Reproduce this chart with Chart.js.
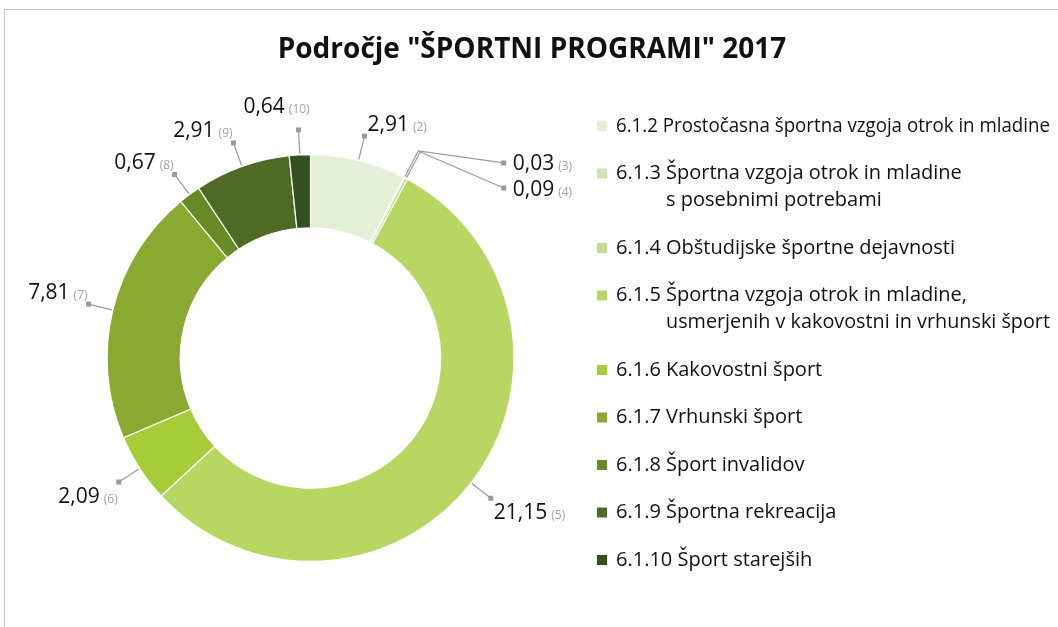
<!DOCTYPE html>
<html>
<head>
<meta charset="utf-8">
<title>Področje ŠPORTNI PROGRAMI 2017</title>
<script src="https://cdn.jsdelivr.net/npm/chart.js@4.4.1/dist/chart.umd.min.js"></script>
<style>
    html, body { margin: 0; padding: 0; background: #fff; }
    #frame {
        position: absolute; left: 4px; top: 9px; width: 1070px; height: 640px;
        border-left: 1px solid #c4c4c4; border-top: 1px solid #c4c4c4;
    }
    #wrap { position: absolute; left: 0; top: 0; width: 1058px; height: 627px; }
</style>
</head>
<body>
<div id="frame"></div>
<div id="wrap"><canvas id="chart"></canvas></div>
<script>
// Data
const TITLE = 'Področje "ŠPORTNI PROGRAMI" 2017';

const categories = [
    ['6.1.2 Prostočasna športna vzgoja otrok in mladine'],
    ['6.1.3 Športna vzgoja otrok in mladine', 's posebnimi potrebami'],
    ['6.1.4 Obštudijske športne dejavnosti'],
    ['6.1.5 Športna vzgoja otrok in mladine,', 'usmerjenih v kakovostni in vrhunski šport'],
    ['6.1.6 Kakovostni šport'],
    ['6.1.7 Vrhunski šport'],
    ['6.1.8 Šport invalidov'],
    ['6.1.9 Športna rekreacija'],
    ['6.1.10 Šport starejših'],
];
const codes = ['2', '3', '4', '5', '6', '7', '8', '9', '10'];
const values = [2.91, 0.03, 0.09, 21.15, 2.09, 7.81, 0.67, 2.91, 0.64];
const colors = [
    '#e3efd6', '#cfe4b1', '#c3dd8e', '#b8d762', '#a7cc3a',
    '#89a930', '#678a24', '#4f6a25', '#35501f',
];

const FONT = '"Open Sans", "Noto Sans", sans-serif';
const LEADER = '#9b9b9b';

function fmt(v) {
    return v.toFixed(2).replace('.', ',');
}

// title, leader-line labels and the legend are drawn on the canvas
const decorPlugin = {
    id: 'decor',
    afterDatasetsDraw(chart) {
        const ctx = chart.ctx;
        const meta = chart.getDatasetMeta(0);
        let tiny = 0;

        meta.data.forEach((arc, i) => {
            const p = arc.getProps(['x', 'y', 'startAngle', 'endAngle', 'outerRadius'], true);
            const mid = (p.startAngle + p.endAngle) / 2;
            const ux = Math.cos(mid), uy = Math.sin(mid);
            const ax = p.x + ux * (p.outerRadius + 1);
            const ay = p.y + uy * (p.outerRadius + 1);
            let ex, ey, tx, ty, align;

            ctx.save();
            ctx.strokeStyle = LEADER;
            ctx.lineWidth = 1.2;
            ctx.beginPath();
            ctx.moveTo(ax, ay);
            if (p.endAngle - p.startAngle < 0.03) {
                // tiny slices get an elbow leader out to the right
                const bx = p.x + ux * (p.outerRadius + 30);
                const by = p.y + uy * (p.outerRadius + 30);
                ex = p.x + p.outerRadius * 0.95;
                ey = by + 12 + tiny * 24;
                tiny++;
                ctx.lineTo(bx, by);
                ctx.lineTo(ex, ey);
                tx = ex + 9; ty = ey; align = 'left';
            } else {
                ex = p.x + ux * (p.outerRadius + 25);
                ey = p.y + uy * (p.outerRadius + 25);
                ctx.lineTo(ex, ey);
                if (Math.abs(ux) < 0.1) {
                    tx = ex - 22; align = 'center'; ty = ey - 24;
                } else {
                    if (ux > 0) { tx = ex + 3; align = 'left'; }
                    else { tx = ex - 1; align = 'right'; }
                    ty = uy < 0 ? ey - 13 : ey + 13;
                }
            }
            ctx.stroke();
            ctx.fillStyle = LEADER;
            ctx.fillRect(ex - 2.5, ey - 2.5, 5, 5);

            const main = fmt(values[i]);
            const sub = '(' + codes[i] + ')';
            ctx.font = '21px ' + FONT;
            const w1 = ctx.measureText(main).width;
            ctx.font = '12px ' + FONT;
            const w2 = ctx.measureText(sub).width;
            const w = w1 + 4 + w2;
            let x0 = tx;
            if (align === 'right') x0 = tx - w;
            if (align === 'center') x0 = tx - w / 2;
            ctx.textAlign = 'left';
            ctx.textBaseline = 'alphabetic';
            ctx.font = '21px ' + FONT;
            ctx.fillStyle = '#111';
            ctx.fillText(main, x0, ty + 7.5);
            ctx.font = '12px ' + FONT;
            ctx.fillStyle = '#a3a3a3';
            ctx.fillText(sub, x0 + w1 + 4, ty + 7.5);
            ctx.restore();
        });

        // title
        ctx.save();
        ctx.font = 'bold 28px ' + FONT;
        ctx.fillStyle = '#111';
        ctx.textAlign = 'center';
        ctx.textBaseline = 'middle';
        ctx.fillText(TITLE, 532, 50);
        ctx.restore();

        // legend
        ctx.save();
        ctx.font = '20px ' + FONT;
        ctx.textBaseline = 'middle';
        ctx.textAlign = 'left';
        let y = 126;
        categories.forEach((lines, i) => {
            ctx.fillStyle = colors[i];
            ctx.fillRect(597, y - 5, 10, 10);
            ctx.fillStyle = '#111';
            lines.forEach((line, k) => {
                const x = k === 0 ? 616 : 666;
                ctx.fillText(line, x, y, 1050 - x);
                if (k < lines.length - 1) y += 27;
            });
            y += 47.5;
        });
        ctx.restore();
    },
};

new Chart(document.getElementById('chart'), {
    type: 'doughnut',
    data: {
        labels: categories.map(c => c.join(' ')),
        datasets: [{
            data: values,
            backgroundColor: colors,
            borderColor: '#ffffff',
            borderWidth: 1.2,
        }],
    },
    options: {
        responsive: true,
        maintainAspectRatio: false,
        animation: false,
        cutout: '64%',
        layout: {
            padding: { top: 154, bottom: 65, left: 106.5, right: 543.5 },
        },
        plugins: {
            legend: { display: false },
            title: { display: false },
            tooltip: { enabled: false },
        },
    },
    plugins: [decorPlugin],
});
</script>
</body>
</html>
